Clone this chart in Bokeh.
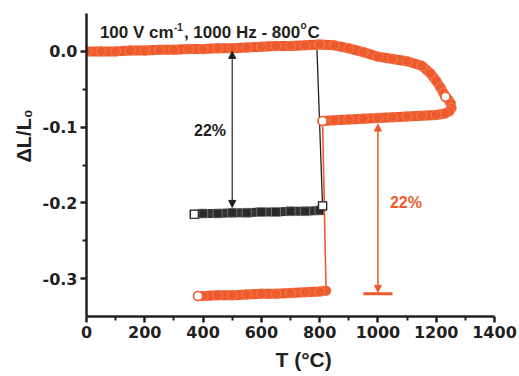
import numpy as np
from bokeh.plotting import figure
from bokeh.models import Range1d, FixedTicker, Label, Arrow, NormalHead, NumeralTickFormatter, Title
from bokeh.embed import file_html
from bokeh.resources import INLINE

ORANGE = "#EE5A2B"
BLACK = "#231F20"
FONT = "Arial"
TICK_FONT = "DejaVu Sans"

# ---- data ----
heat_T = [0, 50, 100, 150, 200, 250, 300, 350, 400, 450, 500, 550, 600, 650, 700, 750, 800,
          850, 900, 950, 1000, 1050, 1100, 1150, 1180, 1200, 1215, 1225, 1232]
heat_dL = [0.000, 0.000, 0.000, 0.001, 0.001, 0.002, 0.002, 0.003, 0.003, 0.004, 0.004, 0.005,
           0.006, 0.007, 0.007, 0.008, 0.009, 0.008, 0.004, -0.001, -0.007, -0.010, -0.013,
           -0.019, -0.029, -0.039, -0.048, -0.055, -0.060]

cool_T = [1242, 1250, 1252, 1245, 1230, 1200, 1150, 1100, 1050, 1000, 950, 900, 850, 810,
          822, 800, 750, 700, 650, 600, 550, 500, 450, 400, 383]
cool_dL = [-0.064, -0.069, -0.075, -0.079, -0.082, -0.084, -0.085, -0.086, -0.087, -0.088,
           -0.089, -0.090, -0.091, -0.092,
           -0.316, -0.317, -0.318, -0.319, -0.320, -0.320, -0.321, -0.322, -0.322, -0.323, -0.323]

blk_T = [0, 50, 100, 150, 200, 250, 300, 350, 400, 450, 500, 550, 600, 650, 700, 750, 790,
         810, 800, 750, 700, 650, 600, 550, 500, 450, 400, 370]
blk_dL = [0.000, 0.000, 0.001, 0.001, 0.002, 0.002, 0.003, 0.004, 0.004, 0.005, 0.005, 0.006,
          0.007, 0.008, 0.009, 0.010, 0.011,
          -0.204, -0.210, -0.211, -0.211, -0.212, -0.212, -0.213, -0.213, -0.214, -0.214, -0.215]

x_ticks = [0, 200, 400, 600, 800, 1000, 1200, 1400]
y_ticks = [-0.3, -0.2, -0.1, 0.0]
y_minor = [-0.25, -0.15, -0.05]

title_parts = ["100 V cm", "-1", ", 1000 Hz - 800", "o", "C"]
y_label = "ΔL/L₀"
x_label = "T (°C)"
pct_label = "22%"

# annotation positions (data units)
blk_arrow = dict(x=500, y0=-0.206, y1=0.0)
red_arrow = dict(x=1000, y0=-0.318, y1=-0.096)
red_bar = dict(x0=950, x1=1050, y=-0.320)

# ---- figure ----
p = figure(width=519, height=376, output_backend="svg", toolbar_location=None,
           x_range=Range1d(0, 1400), y_range=Range1d(-0.35, 0.05),
           min_border_left=86, min_border_right=25, min_border_top=13, min_border_bottom=60)
p.title.visible = False
p.outline_line_color = None
p.xgrid.visible = False
p.ygrid.visible = False
p.background_fill_color = "white"
p.border_fill_color = "white"

xmin = [(a + b) / 2 for a, b in zip(x_ticks[:-1], x_ticks[1:])]
p.xaxis.ticker = FixedTicker(ticks=x_ticks, minor_ticks=xmin)
p.yaxis.ticker = FixedTicker(ticks=y_ticks, minor_ticks=y_minor)
p.yaxis.formatter = NumeralTickFormatter(format="0.0")

for ax in (p.xaxis[0], p.yaxis[0]):
    ax.axis_line_width = 2.5
    ax.axis_line_color = BLACK
    ax.major_tick_line_width = 2.5
    ax.major_tick_line_color = BLACK
    ax.minor_tick_line_width = 2
    ax.minor_tick_line_color = BLACK
    ax.major_tick_out = 6
    ax.major_tick_in = 0
    ax.minor_tick_out = 4
    ax.minor_tick_in = 0
    ax.major_label_text_font = TICK_FONT
    ax.major_label_text_font_style = "bold"
    ax.major_label_text_font_size = "16px"
    ax.major_label_text_color = BLACK
    ax.major_label_standoff = 3

# axis titles as side titles (so they can be positioned along the axis)
p.add_layout(Title(text=y_label, align="left", offset=154, text_font=FONT,
                   text_font_style="bold", text_font_size="20px", text_color=BLACK), "left")
p.add_layout(Title(text=x_label, align="left", offset=189, text_font=FONT,
                   text_font_style="bold", text_font_size="21px", text_color=BLACK), "below")

# ---- black series ----
bT = np.array(blk_T, float); bL = np.array(blk_dL, float)
jb = int(np.argmax(np.abs(np.diff(bL))))
p.line(bT, bL, line_color=BLACK, line_width=1.3)
p.line(bT[jb + 1:], bL[jb + 1:], line_color="#333333", line_width=9, line_cap="butt")
p.scatter(bT[jb + 1:], bL[jb + 1:], marker="square", size=9, fill_color="#2a2a2a",
          line_color="#9a9a9a", line_width=0.6)

# ---- orange series ----
hT = np.array(heat_T, float); hL = np.array(heat_dL, float)
cT = np.array(cool_T, float); cL = np.array(cool_dL, float)
jc = int(np.argmax(np.abs(np.diff(cL))))

p.line(hT, hL, line_color=ORANGE, line_width=10, line_cap="round", line_join="round")
p.line(np.r_[hT[-1], cT[:jc + 1]], np.r_[hL[-1], cL[:jc + 1]], line_color=ORANGE,
       line_width=10, line_cap="round", line_join="round")
p.line(cT[jc + 1:], cL[jc + 1:], line_color=ORANGE, line_width=10, line_cap="round")
p.line(cT, cL, line_color=ORANGE, line_width=1.6)
p.scatter(hT, hL, marker="circle", size=10, fill_color=ORANGE, line_color="#F7A287", line_width=0.5)
p.scatter(cT[:jc + 1], cL[:jc + 1], marker="circle", size=10, fill_color=ORANGE,
          line_color="#F7A287", line_width=0.5)
p.scatter(cT[jc + 1:], cL[jc + 1:], marker="circle", size=10, fill_color=ORANGE,
          line_color="#F7A287", line_width=0.5)

# open end markers
p.scatter([hT[-1], cT[jc], cT[-1]], [hL[-1], cL[jc], cL[-1]], marker="circle", size=9,
          fill_color="white", line_color=ORANGE, line_width=1.5)
p.scatter([bT[jb + 1], bT[-1]], [bL[jb + 1], bL[-1]], marker="square", size=8,
          fill_color="white", line_color=BLACK, line_width=1.2)

# ---- arrows ----
p.add_layout(Arrow(x_start=blk_arrow["x"], y_start=blk_arrow["y0"], x_end=blk_arrow["x"], y_end=blk_arrow["y1"],
                   line_color=BLACK, line_width=1.2,
                   start=NormalHead(size=7, fill_color=BLACK, line_color=BLACK, line_width=1),
                   end=NormalHead(size=7, fill_color=BLACK, line_color=BLACK, line_width=1)))
p.add_layout(Arrow(x_start=red_arrow["x"], y_start=red_arrow["y0"], x_end=red_arrow["x"], y_end=red_arrow["y1"],
                   line_color=ORANGE, line_width=1.5,
                   start=NormalHead(size=7, fill_color=ORANGE, line_color=ORANGE, line_width=1),
                   end=NormalHead(size=7, fill_color=ORANGE, line_color=ORANGE, line_width=1)))
p.segment(x0=[red_bar["x0"]], y0=[red_bar["y"]], x1=[red_bar["x1"]], y1=[red_bar["y"]],
          line_color=ORANGE, line_width=3)


def lab(x, y, t, size, color=BLACK, align="left", baseline="alphabetic", xo=0, yo=0):
    p.add_layout(Label(x=x, y=y, text=t, text_font=FONT, text_font_style="bold",
                       text_font_size=f"{size}px", text_color=color, text_align=align,
                       text_baseline=baseline, x_offset=xo, y_offset=yo))


# title with superscripts (offsets from Arial-Bold advance widths)
tx, ty = 46, 0.0245
lab(tx, ty, title_parts[0], 17)
lab(tx, ty, title_parts[1], 10, xo=74, yo=6)
lab(tx, ty, title_parts[2], 17, xo=84)
lab(tx, ty, title_parts[3], 10, xo=200.5, yo=7)
lab(tx, ty, title_parts[4], 17, xo=207.5)

lab(424, -0.105, pct_label, 16, align="center", baseline="middle")
lab(1096, -0.200, pct_label, 16, color=ORANGE, align="center", baseline="middle")

open("out.html", "w").write(file_html(p, INLINE))
